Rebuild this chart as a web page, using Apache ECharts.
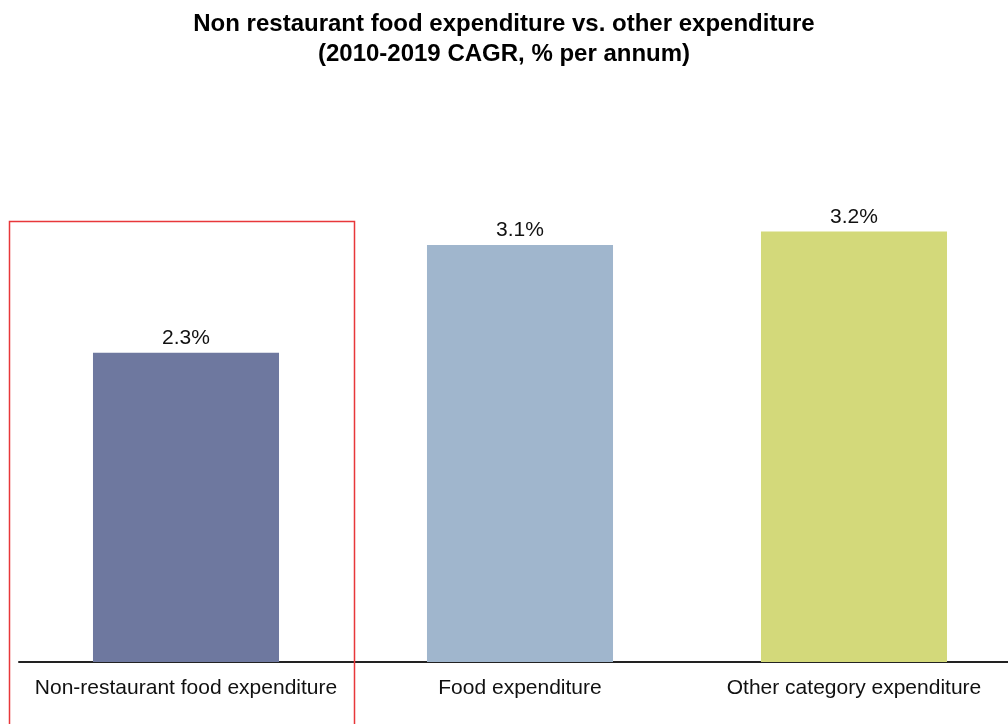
<!DOCTYPE html>
<html>
<head>
<meta charset="utf-8">
<script src="https://cdn.jsdelivr.net/npm/echarts@6/dist/echarts.min.js"></script>
<style>html,body{margin:0;padding:0;background:#fff}#c{width:1008px;height:724px}</style>
</head>
<body>
<div id="c"></div>
<script>
const categories = ['Non-restaurant food expenditure', 'Food expenditure', 'Other category expenditure'];
const values = [2.3, 3.1, 3.2];
const barColors = ['#6E789F', '#A0B6CD', '#D3D97A'];

const chart = echarts.init(document.getElementById('c'));
chart.setOption({
  animation: false,
  backgroundColor: '#fff',
  title: {
    text: 'Non restaurant food expenditure vs. other expenditure\n(2010-2019 CAGR, % per annum)',
    left: 'center', top: 4,
    textStyle: { fontFamily: 'Liberation Sans, Arial', fontWeight: 'bold', fontSize: 24, lineHeight: 30, color: '#000' }
  },
  grid: { left: 19, width: 1002, top: 124, bottom: 62, containLabel: false, outerBoundsMode: 'none' },
  xAxis: {
    type: 'category', data: categories,
    axisLine: { lineStyle: { color: '#222', width: 2 } },
    axisTick: { show: false },
    axisLabel: { fontFamily: 'Liberation Sans, Arial', fontSize: 21, color: '#111', margin: 16, interval: 0 }
  },
  yAxis: { type: 'value', min: 0, max: 4, show: false, splitLine: { show: false } },
  series: [{
    type: 'bar', barWidth: '55.7%',
    data: values.map((v, i) => ({ value: v, itemStyle: { color: barColors[i] } })),
    label: { show: true, position: 'top', distance: 4, formatter: p => p.value.toFixed(1) + '%',
      fontFamily: 'Liberation Sans, Arial', fontSize: 21, color: '#111' }
  }],
  graphic: [{
    type: 'rect', shape: { x: 9.5, y: 221.5, width: 345, height: 520 },
    style: { fill: 'none', stroke: '#E8373A', lineWidth: 1.5 }, z: 100
  }]
});
</script>
</body>
</html>
